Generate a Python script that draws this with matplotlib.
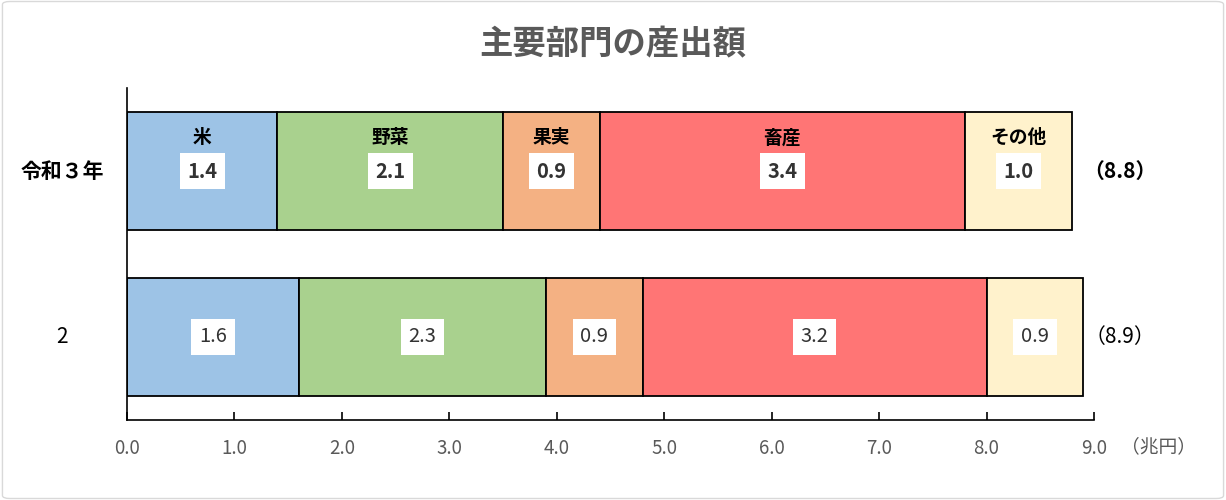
import matplotlib.pyplot as plt
from matplotlib.patches import FancyBboxPatch

plt.rcParams['font.family'] = ['Noto Sans CJK JP', 'DejaVu Sans']

title = "主要部門の産出額"
years = ["令和３年", "2"]
parts = ["米", "野菜", "果実", "畜産", "その他"]
values = {
    "令和３年": [1.4, 2.1, 0.9, 3.4, 1.0],
    "2": [1.6, 2.3, 0.9, 3.2, 0.9],
}
totals = {"令和３年": "（8.8）", "2": "（8.9）"}
colors = ["#9DC3E6", "#A9D18E", "#F4B183", "#FF7575", "#FFF2CC"]
xticks = [0.0, 1.0, 2.0, 3.0, 4.0, 5.0, 6.0, 7.0, 8.0, 9.0]
unit = "（兆円）"

grey = "#595959"

fig = plt.figure(figsize=(12.26, 5.0), dpi=100)
fig.patches.append(FancyBboxPatch((0.002, 0.003), 0.996, 0.994,
                                  boxstyle="round,pad=0,rounding_size=0.006",
                                  transform=fig.transFigure, fill=False,
                                  edgecolor="#D9D9D9", linewidth=1.0))
ax = fig.add_axes([0.1036, 0.16, 0.7887, 0.664])

ypos = [1, 0]
for yi, year in zip(ypos, years):
    bold = yi == 1
    left = 0.0
    for name, v, c in zip(parts, values[year], colors):
        ax.barh(yi, v, left=left, height=0.71, color=c,
                edgecolor="black", linewidth=1.3)
        cx = left + v / 2
        if bold:
            ax.text(cx, yi + 0.2, name, ha="center", va="center",
                    fontsize=13.5, fontweight="bold", color="black")
        ax.text(cx, yi, f"{v:.1f}", ha="center", va="center", fontsize=14.5,
                fontweight="bold" if bold else "normal", color="#333333",
                bbox=dict(boxstyle="square,pad=0.38", facecolor="white",
                          edgecolor="none"))
        left += v
    ax.text(-0.067, yi, year, transform=ax.get_yaxis_transform(),
            ha="center", va="center", fontsize=15,
            fontweight="bold" if bold else "normal", color="black")
    ax.text(9.24, yi, totals[year], ha="center", va="center", fontsize=15,
            fontweight="bold" if bold else "normal", color="black",
            clip_on=False)

ax.set_xlim(0, 9.0)
ax.set_ylim(-0.5, 1.5)
ax.set_xticks(xticks)
ax.set_xticklabels([f"{t:.1f}" for t in xticks], color=grey, fontsize=13.5)
ax.set_yticks([])
ax.tick_params(axis="x", direction="in", length=6, width=1.2, pad=13)
for s in ["top", "right"]:
    ax.spines[s].set_visible(False)
for s in ["left", "bottom"]:
    ax.spines[s].set_linewidth(1.2)
fig.text(1158 / 1226, 1 - 447 / 500, unit, ha="center", va="center",
         fontsize=13.5, color=grey)

fig.text(0.5, 0.91, title, ha="center", va="center", fontsize=24,
         fontweight="bold", color=grey)

fig.savefig("out.png", dpi=100)
